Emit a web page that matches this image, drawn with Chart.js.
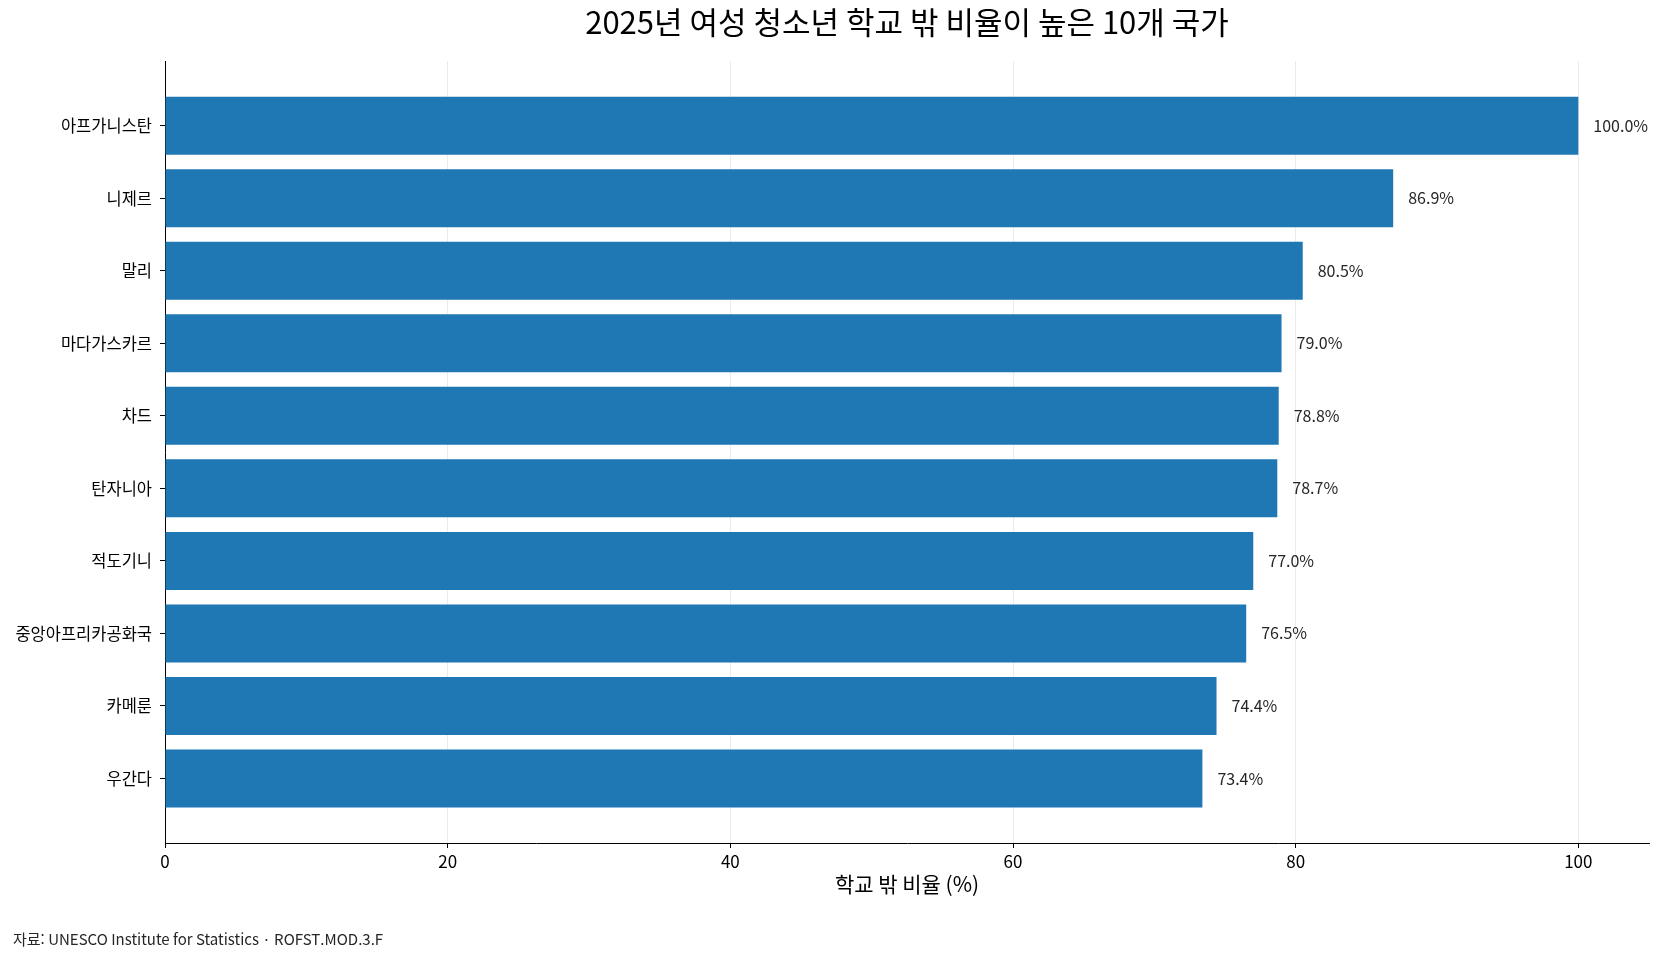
<!DOCTYPE html>
<html lang="ko">
<head>
<meta charset="utf-8">
<title>2025년 여성 청소년 학교 밖 비율이 높은 10개 국가</title>
<script src="https://cdn.jsdelivr.net/npm/chart.js@4.4.1/dist/chart.umd.min.js"></script>
<style>
    html, body { margin: 0; padding: 0; background: #fff; }
    #wrap { width: 1662px; height: 959px; position: relative; }
</style>
</head>
<body>
<div id="wrap"><canvas id="outOfSchoolChart"></canvas></div>
<script>
// Chart data
const countries = ['아프가니스탄', '니제르', '말리', '마다가스카르', '차드', '탄자니아', '적도기니', '중앙아프리카공화국', '카메룬', '우간다'];
const outOfSchoolRates = [100.0, 86.9, 80.5, 79.0, 78.8, 78.7, 77.0, 76.5, 74.4, 73.4];
const xTicks = [0, 20, 40, 60, 80, 100];

const chartTitle = '2025년 여성 청소년 학교 밖 비율이 높은 10개 국가';
const xAxisTitle = '학교 밖 비율 (%)';
const sourceNote = '자료: UNESCO Institute for Statistics · ROFST.MOD.3.F';

const fontFamily = "'Noto Sans CJK KR', 'Noto Sans', sans-serif";
Chart.defaults.font.family = fontFamily;
Chart.defaults.color = '#000';

// Value labels at the end of each bar
const barValueLabels = {
    id: 'barValueLabels',
    afterDatasetsDraw(chart) {
        const ctx = chart.ctx;
        const meta = chart.getDatasetMeta(0);
        ctx.save();
        ctx.font = '16px ' + fontFamily;
        ctx.fillStyle = '#262626';
        ctx.textAlign = 'left';
        ctx.textBaseline = 'middle';
        meta.data.forEach((bar, i) => {
            ctx.fillText(outOfSchoolRates[i].toFixed(1) + '%', bar.x + 15, bar.y);
        });
        ctx.restore();
    }
};

// Source note bottom left
const sourceText = {
    id: 'sourceText',
    afterDraw(chart) {
        const ctx = chart.ctx;
        ctx.save();
        ctx.font = '15px ' + fontFamily;
        ctx.fillStyle = '#262626';
        ctx.textAlign = 'left';
        ctx.textBaseline = 'middle';
        ctx.fillText(sourceNote, 13, 939);
        ctx.restore();
    }
};

const ctx = document.getElementById('outOfSchoolChart').getContext('2d');
const outOfSchoolChart = new Chart(ctx, {
    type: 'bar',
    data: {
        datasets: [{
            label: xAxisTitle,
            data: outOfSchoolRates.map((v, i) => ({ x: v, y: i })),
            backgroundColor: '#1f77b4',
            borderWidth: 0,
            categoryPercentage: 1.0,
            barPercentage: 0.8
        }]
    },
    options: {
        indexAxis: 'y',
        responsive: true,
        maintainAspectRatio: false,
        animation: false,
        layout: {
            padding: { left: 0, right: 13, top: 0, bottom: 62 }
        },
        plugins: {
            legend: { display: false },
            tooltip: { enabled: false },
            title: {
                display: true,
                fullSize: false,
                text: chartTitle,
                color: '#000',
                font: { size: 31, weight: 'normal' },
                padding: { top: 4, bottom: 20 }
            }
        },
        scales: {
            x: {
                type: 'linear',
                position: 'bottom',
                min: 0,
                max: 105,
                z: 1,
                afterBuildTicks: (scale) => {
                    scale.ticks = xTicks.map(v => ({ value: v }));
                },
                afterFit: (scale) => {
                    scale.height = 54;
                },
                grid: {
                    color: 'rgba(176, 176, 176, 0.25)',
                    tickColor: '#000',
                    tickLength: 5,
                    lineWidth: 1
                },
                border: { color: '#000', width: 1 },
                ticks: {
                    padding: 3,
                    color: '#000',
                    font: { size: 17 }
                },
                title: {
                    display: true,
                    text: xAxisTitle,
                    color: '#000',
                    font: { size: 21 },
                    padding: 0
                }
            },
            y: {
                type: 'linear',
                reverse: true,
                offset: false,
                min: -0.89,
                max: 9.89,
                afterBuildTicks: (scale) => {
                    scale.ticks = countries.map((_, i) => ({ value: i }));
                },
                afterFit: (scale) => {
                    scale.width = 165;
                },
                grid: {
                    offset: false,
                    drawOnChartArea: false,
                    color: '#000',
                    tickColor: '#000',
                    tickLength: 5
                },
                border: { color: '#000', width: 1 },
                ticks: {
                    padding: 8,
                    color: '#000',
                    autoSkip: false,
                    font: { size: 16.5 },
                    callback: (value) => countries[value]
                }
            }
        }
    },
    plugins: [barValueLabels, sourceText]
});
</script>
</body>
</html>
